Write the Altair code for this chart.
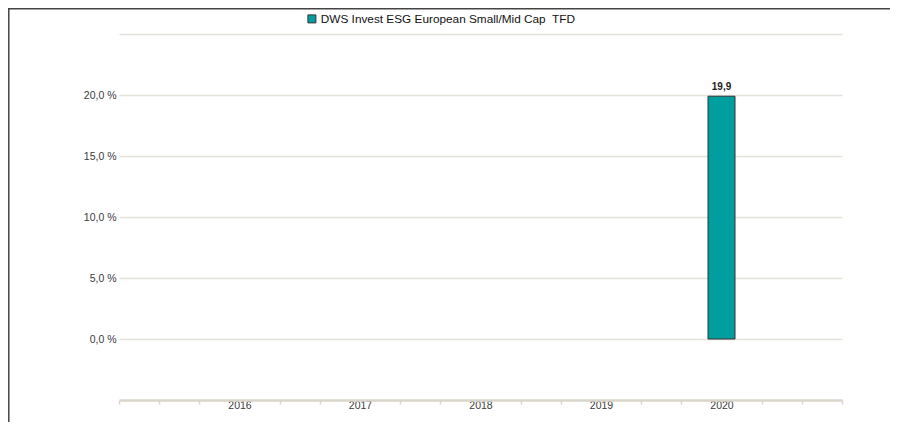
import altair as alt
import pandas as pd

# Data
years = [2016, 2017, 2018, 2019, 2020]
values = [None, None, None, None, 19.9]
series_name = "DWS Invest ESG European Small/Mid Cap\u00a0 TFD"

y_ticks = [0, 5, 10, 15, 20, 25]
x_domain = [2015, 2021]
x_tick_positions = [2015 + i / 3 for i in range(19)]

teal = "#009e9e"
grid_col = "#e4e1da"
axis_col = "#d9d5ca"
font = "Liberation Sans"

df = pd.DataFrame({"year": years, "value": values, "series": [series_name] * len(years)})
df_bar = df.dropna()

x_enc = alt.X(
    "year:Q",
    scale=alt.Scale(domain=x_domain, nice=False, zero=False, padding=0),
    axis=alt.Axis(
        title=None,
        values=x_tick_positions,
        grid=False,
        domainColor=axis_col,
        domainWidth=2.5,
        tickColor=axis_col,
        tickWidth=1.5,
        tickSize=4,
        tickOpacity={
            "condition": {
                "test": "abs(datum.value - round(datum.value)) < 0.01 && datum.value > 2015.5 && datum.value < 2020.5",
                "value": 0,
            },
            "value": 1,
        },
        labelExpr="(abs(datum.value - round(datum.value)) < 0.01 && datum.value > 2015.5 && datum.value < 2020.5) ? format(round(datum.value), 'd') : ''",
        labelFont=font,
        labelFontSize=10.5,
        labelColor="#3a3a3a",
        labelPadding=-4,
        labelBaseline="top",
    ),
)

y_enc = alt.Y(
    "value:Q",
    scale=alt.Scale(domain=[-5, 25], nice=False, zero=False, padding=0),
    axis=alt.Axis(
        title=None,
        values=y_ticks,
        grid=True,
        gridColor=grid_col,
        gridWidth=1.5,
        domain=False,
        ticks=False,
        labelExpr="datum.value > 22 ? '' : replace(format(datum.value, '.1f'), '.', ',') + ' %'",
        labelFont=font,
        labelFontSize=10.5,
        labelColor="#3a3a3a",
        labelPadding=3,
    ),
)

bars = alt.Chart(df_bar).mark_bar(size=27, stroke="#333333", strokeWidth=1).encode(
    x=x_enc,
    y=y_enc,
    color=alt.Color(
        "series:N",
        scale=alt.Scale(range=[teal]),
        legend=alt.Legend(
            title=None,
            orient="none",
            legendX=187,
            legendY=-21,
            padding=0,
            symbolType="square",
            symbolSize=64,
            symbolStrokeColor="#333333",
            symbolStrokeWidth=1,
            symbolOpacity=1,
            labelFont=font,
            labelFontSize=11.8,
            labelColor="#111111",
            labelOffset=3,
            labelLimit=0,
        ),
    ),
)

labels = alt.Chart(df_bar).transform_calculate(
    lab="replace(format(datum.value, '.1f'), '.', ',')"
).mark_text(
    baseline="bottom", dy=-4, fontWeight="bold", fontSize=10, font=font, color="#222222"
).encode(x=x_enc, y=y_enc, text="lab:N")

border_top = alt.Chart(df_bar).mark_rule(color="#444444", strokeWidth=1.5).encode(
    x=alt.value(-111), x2=alt.value(790), y=alt.value(-25.2)
)
border_left = alt.Chart(df_bar).mark_rule(color="#444444", strokeWidth=1.5).encode(
    x=alt.value(-110.2), y=alt.value(-26), y2=alt.value(400)
)

chart = (
    alt.layer(bars, labels, border_top, border_left)
    .properties(
        width=723,
        height=366,
        padding={"left": 111, "top": 26, "right": 48, "bottom": 22},
        autosize=alt.AutoSizeParams(type="none"),
        background="white",
    )
    .configure_view(stroke=None)
)

chart.save("out.html", embed_options={"renderer": "svg", "actions": False})
